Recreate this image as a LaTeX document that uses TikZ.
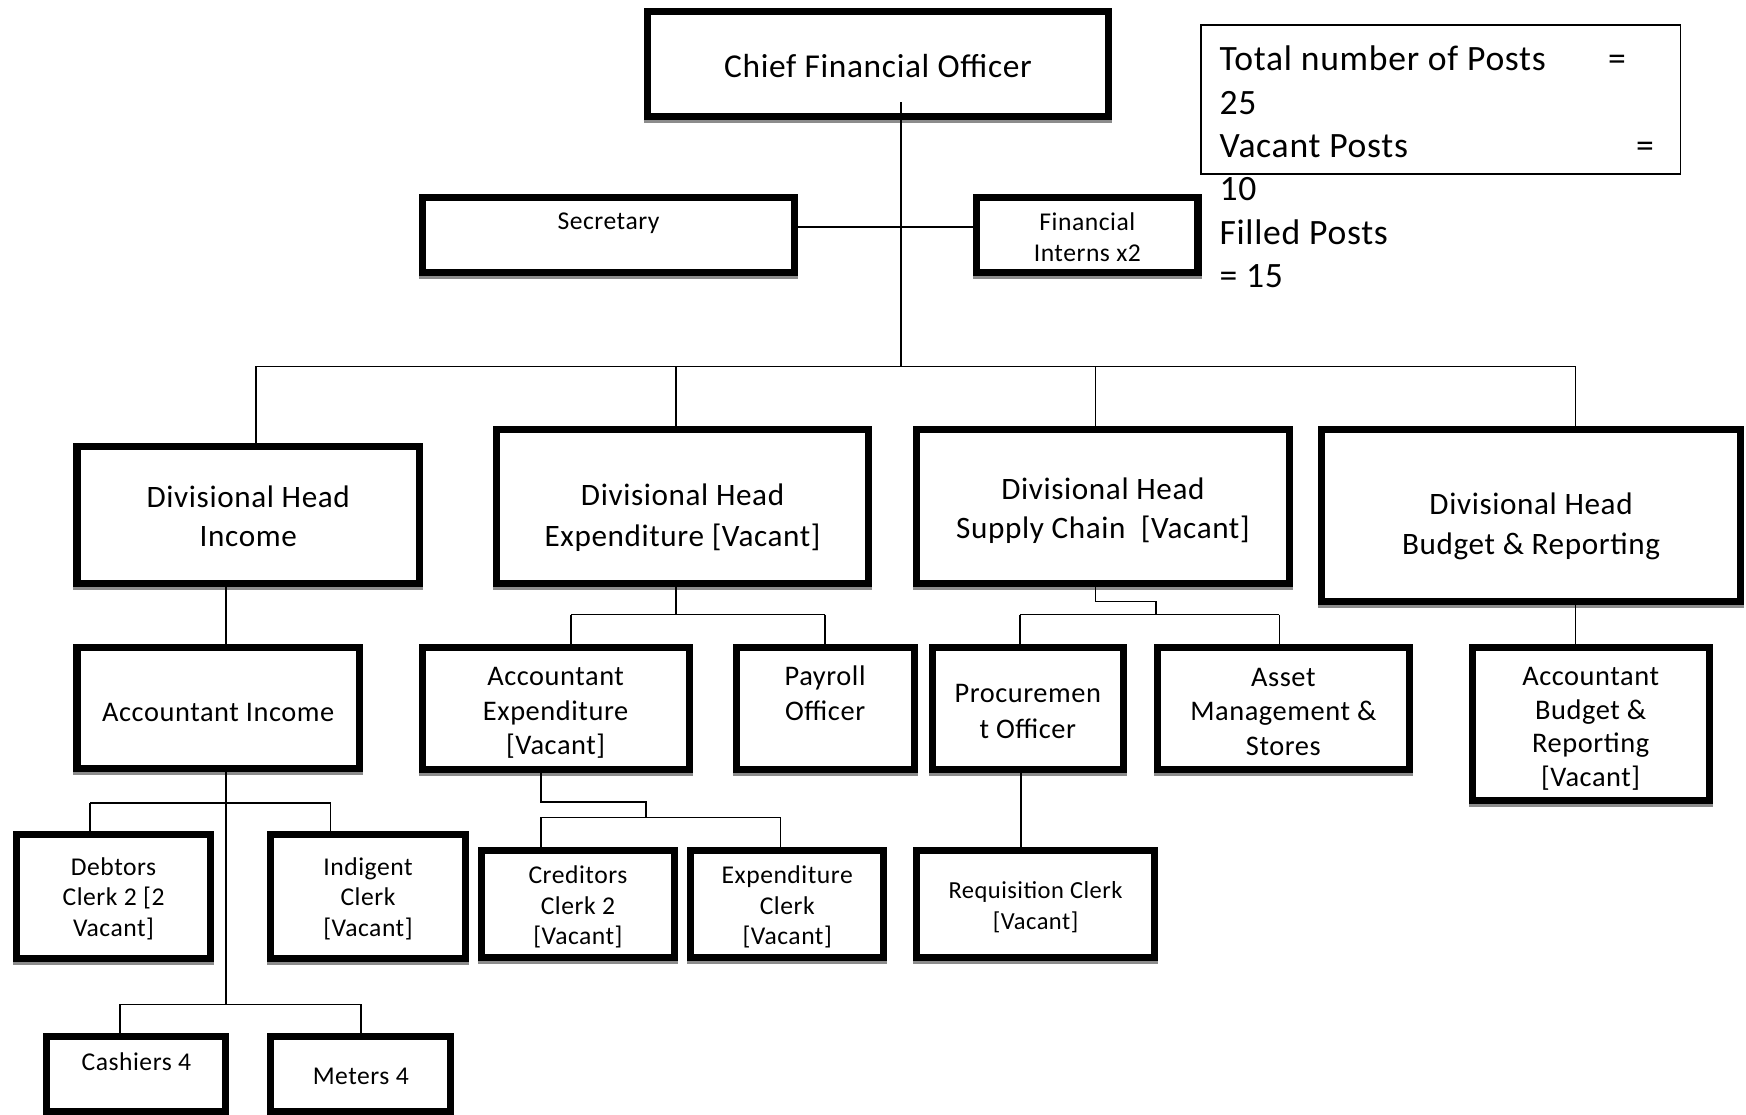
\documentclass[tikz,border=0pt]{standalone}
\usepackage{fontspec}
\setmainfont{Carlito}[LetterSpace=2.0]

\begin{document}
\begin{tikzpicture}
[x=1pt,y=-1pt,%
  postDecorate/.style={draw,line width=6.3pt,inner sep=0pt},%
  textDecorate/.style={align=center,inner sep=0pt},%
  shadowDecorate/.style={draw=black!45,line width=2.6pt},%
  lineDecorate/.style={-,line width=1.4pt},%
  tallyDecorate/.style={draw,line width=1.5pt}]
\useasboundingbox (0,0) rectangle (1568,1001);
%% posts: name / left / top / right / bottom / font size / line skip / text drop / label
\foreach \postname/\l/\t/\r/\b/\fs/\ls/\dy/\txt in {
  %% top
  cfo/578/7/999/108/30/36/2/{Chief Financial Officer},
  sec/376/174/717/248/23/28/2/{Secretary\\~},
  intern/874/174/1079/248/23/28/2/{Financial\\Interns x2},
  %% divisional heads
  dhinc/66/398/380/527/28/35/1.5/{Divisional Head\\Income},
  dhexp/443/383/783/527/28/37/10/{Divisional Head\\Expenditure [Vacant]},
  dhsc/820/383/1161/527/28/35/3.5/{Divisional Head\\Supply Chain~~[Vacant]},
  dhbr/1184/383/1566/543/28/36/10/{Divisional Head\\Budget \& Reporting},
  %% accountants and officers
  accinc/66/578/326/693/25.5/31/4/{Accountant Income},
  accexp/376/578/622/694/25.5/31/4.5/{Accountant\\Expenditure\\{}[Vacant]},
  payroll/658/578/824/694/25.5/31/2/{Payroll\\Officer\\~},
  proc/834/578/1012/694/25.5/32/3/{Procuremen\\t Officer},
  asset/1036/578/1269/694/25.5/31/3/{Asset\\Management \&\\Stores},
  accbr/1319/578/1538/722/25.5/30.5/4.5/{Accountant\\Budget \&\\Reporting\\{}[Vacant]},
  %% clerks
  debtors/12/746/192/864/23/27.5/2/{Debtors\\Clerk 2 [2\\Vacant]},
  indigent/240/746/421/864/23/27.5/2/{Indigent\\Clerk\\{}[Vacant]},
  creditors/429/761/609/863/23/27.5/2.5/{Creditors\\Clerk 2\\{}[Vacant]},
  expclerk/617/761/797/863/23/27.5/2.5/{Expenditure\\Clerk\\{}[Vacant]},
  req/820/761/1040/863/22/28/3/{Requisition Clerk\\{}[Vacant]},
  cashiers/39/928/206/1001/23/21/-1/{Cashiers 4\\~},
  meters/240/928/408/1001/23/28/2/{Meters 4}}
{
  \node (\postname) at ({(\l+\r)/2},{(\t+\b)/2}) [postDecorate,
    minimum width={(\r-\l-6.3)*1pt},minimum height={(\b-\t-6.3)*1pt},
    label={[textDecorate,font=\fontsize{\fs}{\ls}\selectfont,yshift=-\dy pt]center:\txt}] {};
  \draw[shadowDecorate] ([yshift=-1.3pt]\postname.south west) -- ([yshift=-1.3pt]\postname.south east);
}
%% post count
\node (tallybox) at (1294,89.5) [tallyDecorate,minimum width=430.5pt,minimum height=133.5pt] {};
\node (tally) at (1095,41) [anchor=north west,inner sep=0pt,align=left,
  font=\fontsize{32}{39}\selectfont]
  {\makebox[349pt][l]{Total number of Posts}=\\25\\\makebox[374pt][l]{Vacant Posts}=\\10\\Filled Posts\\= 15};
%% junctions
\foreach \jname/\x/\y in {
  cfoout/809/92, topbus/809/329, staffbus/809/204,
  incin/230/329, expin/607/329, scin/984/329, brin/1415/329,
  incstem/203/552, expbus/607/552, accexpin/513/552, payin/741/552,
  sckink/1038/540, scbus/1038/552, procin/916/552, assetin/1149/552,
  clerkbus/203/721, debtin/81/721, indigin/297/721,
  cashbus/203/902, cashin/108/902, meterin/324/902,
  credkink/580/720, credbus/580/734, credin/486/734, expclin/701/734,
  reqin/917/734}
{
  \coordinate (\jname) at (\x,\y);
}
%% stems
\draw[lineDecorate] (cfoout) -- (topbus);
\draw[lineDecorate] (sec.east |- staffbus) -- (intern.west |- staffbus);
\draw[lineDecorate] (incin) -- (brin);
\draw[lineDecorate] (dhinc.south -| incstem) -- (incstem |- accinc.north);
\draw[lineDecorate] (dhexp.south -| expbus) -- (expbus);
\draw[lineDecorate] (dhsc.south -| scin) |- (sckink) -- (scbus);
\draw[lineDecorate] (dhbr.south -| brin) -- (brin |- accbr.north);
\draw[lineDecorate] (accinc.south -| clerkbus) -- (cashbus);
\draw[lineDecorate] (accexp.south -| credin) |- (credkink) -- (credbus);
\draw[lineDecorate] (proc.south -| reqin) -- (reqin |- req.north);
%% buses
\path
\foreach \startnode/\endnode in {
  accexpin/payin, procin/assetin, debtin/indigin, cashin/meterin, credin/expclin}
{
  (\startnode) edge[lineDecorate] (\endnode)
};
%% drops
\foreach \jname/\postname in {
  incin/dhinc, expin/dhexp, scin/dhsc, brin/dhbr, accexpin/accexp, payin/payroll,
  procin/proc, assetin/asset, debtin/debtors, indigin/indigent, cashin/cashiers,
  meterin/meters, credin/creditors, expclin/expclerk}
{
  \draw[lineDecorate] (\jname) -- (\jname |- \postname.north);
}
\end{tikzpicture}
\end{document}
